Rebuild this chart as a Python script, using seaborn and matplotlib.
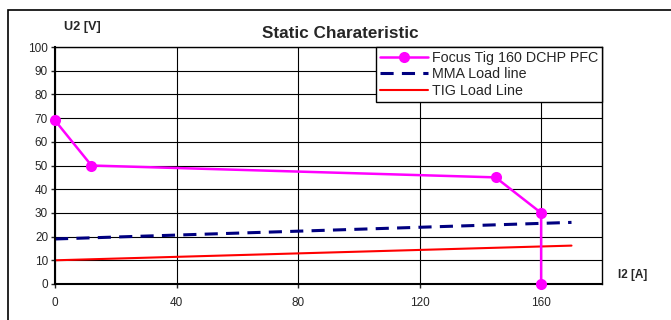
import pandas as pd
import matplotlib.pyplot as plt
import seaborn as sns
from matplotlib.patches import Rectangle


# =========================
# Data
# =========================

focus_i = [0, 12, 145, 160, 160]
focus_u = [69, 50, 45, 30, 0]

mma_i = [0, 170]
mma_u = [19, 26]

tig_i = [0, 170]
tig_u = [10, 16.2]


# =========================
# Style
# =========================

sns.set_style("white")
plt.rcParams["font.family"] = ["Liberation Sans", "DejaVu Sans"]


fig = plt.figure(figsize=(6.71, 3.2), dpi=100)

ax = fig.add_axes([0.082, 0.1125, 0.815, 0.7405])


# =========================
# Lines
# =========================

sns.lineplot(
    x=focus_i,
    y=focus_u,
    ax=ax,
    color="#ff00ff",
    marker="o",
    markersize=8,
    markeredgewidth=0,
    linewidth=1.8,
    sort=False,
    estimator=None,
    clip_on=False,
    zorder=5,
    label="Focus Tig 160 DCHP PFC"
)

sns.lineplot(
    x=mma_i,
    y=mma_u,
    ax=ax,
    color="#000080",
    linewidth=2.2,
    estimator=None,
    label="MMA Load line"
)
ax.lines[-1].set_dashes([4.3, 2.7])

sns.lineplot(
    x=tig_i,
    y=tig_u,
    ax=ax,
    color="#ff0000",
    linewidth=1.5,
    estimator=None,
    label="TIG Load Line"
)


# =========================
# Axes
# =========================

ax.set_xlim(0, 180)
ax.set_ylim(0, 100)

ax.set_xticks(range(0, 161, 40))
ax.set_yticks(range(0, 101, 10))

ax.grid(True, color="black", linewidth=0.8)
ax.set_axisbelow(True)

for s in ax.spines.values():
    s.set_color("black")
    s.set_linewidth(1)
ax.spines["left"].set_linewidth(1.5)
ax.spines["bottom"].set_linewidth(1.5)

ax.tick_params(
    axis="both",
    direction="out",
    length=3,
    width=1,
    labelsize=8.5,
    bottom=True,
    left=True,
    pad=2
)
ax.tick_params(axis="x", pad=6)

ax.set_xlabel("")
ax.set_ylabel("")

fig.text(0.095, 0.905, "U2 [V]", fontsize=9.2, fontweight="bold")
fig.text(0.921, 0.13, "I2 [A]", fontsize=8.5, fontweight="bold")

fig.text(
    0.507, 0.88,
    "Static Charateristic",
    fontsize=12.3,
    fontweight="bold",
    ha="center"
)


# =========================
# Legend
# =========================

leg = ax.legend(
    loc="upper right",
    bbox_to_anchor=(1.0, 1.0),
    fontsize=10.3,
    frameon=True,
    fancybox=False,
    borderaxespad=0,
    handlelength=3.4,
    handletextpad=0.25,
    labelspacing=0.2,
    borderpad=0.25
)
leg.get_frame().set_edgecolor("black")
leg.get_frame().set_linewidth(1)
leg.get_frame().set_alpha(1)
leg.set_zorder(10)


# =========================
# Figure border
# =========================

fig.patches.append(
    Rectangle(
        (8 / 671, -0.1),
        1.2,
        (320 - 10) / 320 + 0.1,
        transform=fig.transFigure,
        fill=False,
        edgecolor="black",
        linewidth=1.2
    )
)


plt.savefig("out.png", dpi=100)
